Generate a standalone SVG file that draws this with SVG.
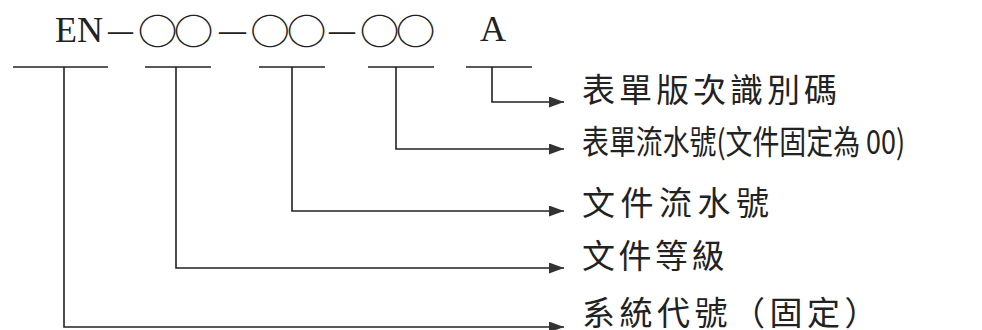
<svg xmlns="http://www.w3.org/2000/svg" width="982" height="330" viewBox="0 0 982 330">
<style>
.ln{fill:none;stroke:#222;stroke-width:1.6}
.lat{font-family:"Liberation Serif","Times New Roman",serif;font-size:36px;fill:#222}
.circ{font-family:"Noto Sans CJK TC","DejaVu Sans",sans-serif;font-size:36px;fill:#222;text-anchor:middle}
.zh{font-family:"Noto Sans CJK TC",sans-serif;font-size:33px;fill:#222}
</style>
<defs>
<marker id="ah" markerUnits="userSpaceOnUse" markerWidth="16" markerHeight="11" refX="15" refY="5.5" orient="auto">
<path d="M0,0 L15,5.5 L0,11 z" fill="#333"/>
</marker>
</defs>
<rect width="982" height="330" fill="#fff"/>
<g id="code">
<text class="lat" x="55" y="42">EN</text>
<text class="lat" x="108" y="42" textLength="25" lengthAdjust="spacingAndGlyphs">—</text>
<text class="circ" transform="translate(157.5,45) scale(1.1,1)">○</text>
<text class="circ" transform="translate(193.5,45) scale(1.1,1)">○</text>
<text class="lat" x="219" y="42" textLength="27" lengthAdjust="spacingAndGlyphs">—</text>
<text class="circ" transform="translate(270,45) scale(1.1,1)">○</text>
<text class="circ" transform="translate(306.5,45) scale(1.1,1)">○</text>
<text class="lat" x="329" y="42" textLength="26" lengthAdjust="spacingAndGlyphs">—</text>
<text class="circ" transform="translate(379.5,45) scale(1.1,1)">○</text>
<text class="circ" transform="translate(415.5,45) scale(1.1,1)">○</text>
<text class="lat" x="480" y="41">A</text>
</g>
<g id="bars" class="ln">
<line x1="13" y1="67" x2="108" y2="67"/>
<line x1="145" y1="67" x2="211" y2="67"/>
<line x1="259" y1="67" x2="325" y2="67"/>
<line x1="368" y1="67" x2="434" y2="67"/>
<line x1="466" y1="67" x2="532" y2="67"/>
</g>
<g id="connectors" class="ln">
<path d="M492,67 V102 H564" marker-end="url(#ah)"/>
<path d="M396,67 V149 H564" marker-end="url(#ah)"/>
<path d="M292,67 V211 H564" marker-end="url(#ah)"/>
<path d="M176,67 V268 H564" marker-end="url(#ah)"/>
<path d="M64,67 V327 H564" marker-end="url(#ah)"/>
</g>
<g id="label-version"><text class="zh" x="582" y="102" letter-spacing="4">表單版次識別碼</text></g>
<g id="label-form"><text class="zh" x="582" y="154" font-size="29" textLength="323" lengthAdjust="spacingAndGlyphs">表單流水號(文件固定為 00)</text></g>
<g id="label-doc"><text class="zh" x="582" y="215" letter-spacing="5.5">文件流水號</text></g>
<g id="label-level"><text class="zh" x="582" y="268" letter-spacing="3.5">文件等級</text></g>
<g id="label-system"><text class="zh" x="582" y="325" letter-spacing="4.5">系統代號（固定）</text></g>
</svg>
